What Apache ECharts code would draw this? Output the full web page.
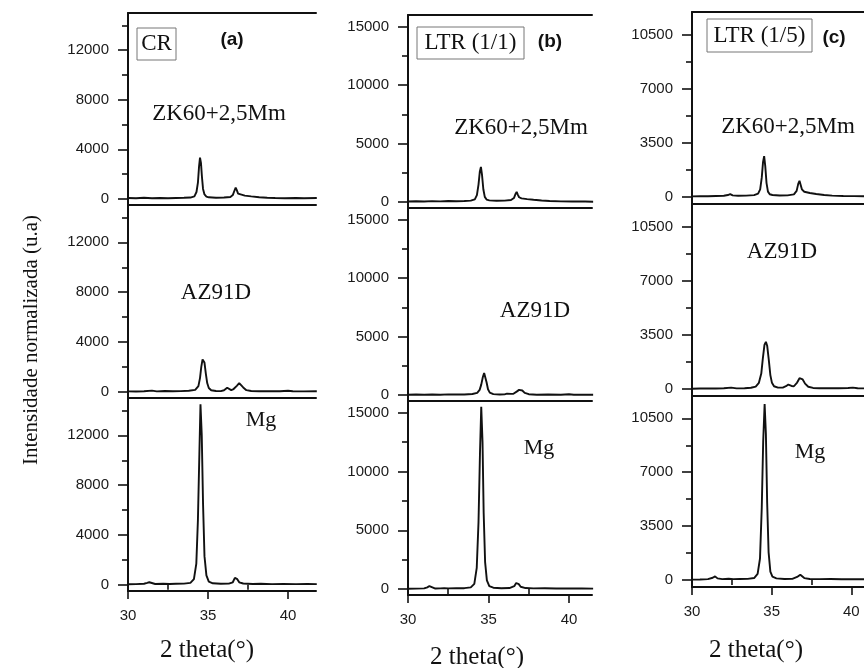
<!DOCTYPE html>
<html>
<head>
<meta charset="utf-8">
<script src="https://cdn.jsdelivr.net/npm/echarts@6/dist/echarts.min.js"></script>
<style>html,body{margin:0;padding:0;background:#fff}#c{width:864px;height:668px}</style>
</head>
<body>
<div id="c"></div>
<script>
// ---- Data (2 theta in degrees, intensity in a.u.) ----
const conditions = ['CR', 'LTR (1/1)', 'LTR (1/5)'];
const panelTags = ['(a)', '(b)', '(c)'];
const alloys = ['ZK60+2,5Mm', 'AZ91D', 'Mg'];

const zk60_CR = [[30,60],[30.5,40],[31.0,80],[31.5,50],[32.0,70],[32.5,40],[33.0,60],[33.5,80],[33.9,100],[34.15,200],[34.28,550],[34.37,1300],[34.44,2600],[34.5,3330],[34.56,2900],[34.62,1800],[34.69,800],[34.78,350],[34.9,180],[35.05,120],[35.5,90],[36.0,100],[36.4,150],[36.55,300],[36.65,650],[36.73,910],[36.8,700],[36.88,420],[37.0,320],[37.3,260],[37.7,200],[38.2,130],[38.7,80],[39.2,60],[39.8,40],[40.5,60],[41.0,40],[41.8,60]];
const az91_CR = [[30,30],[30.5,20],[31.0,40],[31.5,90],[31.8,30],[32.3,60],[32.8,40],[33.3,50],[33.8,80],[34.2,150],[34.4,450],[34.5,1100],[34.58,2000],[34.66,2600],[34.72,2640],[34.78,2350],[34.86,1500],[34.95,700],[35.05,300],[35.2,120],[35.5,60],[35.8,50],[36.0,120],[36.1,250],[36.2,320],[36.3,220],[36.45,130],[36.6,220],[36.8,480],[36.95,700],[37.05,650],[37.2,350],[37.4,130],[37.7,60],[38.2,40],[38.8,50],[39.5,40],[40.0,80],[40.1,120],[40.3,40],[41.0,30],[41.8,40]];
const mg_CR = [[30,40],[30.5,50],[31.0,80],[31.2,150],[31.33,200],[31.45,120],[31.7,60],[32.2,80],[32.6,60],[33.0,80],[33.5,90],[33.9,150],[34.12,450],[34.27,1700],[34.37,5200],[34.46,10500],[34.53,14500],[34.61,12000],[34.69,6500],[34.78,2300],[34.9,750],[35.05,250],[35.3,120],[35.8,80],[36.3,90],[36.55,200],[36.68,550],[36.75,670],[36.83,450],[36.95,200],[37.2,100],[37.8,60],[38.3,80],[39.0,50],[39.7,60],[40.5,50],[41.2,60],[41.8,50]];

const zk60_LTR11 = [[30,50],[30.5,80],[31.0,60],[31.5,90],[32.0,70],[32.5,100],[33.0,80],[33.5,100],[33.9,130],[34.15,240],[34.28,600],[34.38,1500],[34.46,2600],[34.53,3010],[34.6,2300],[34.68,1100],[34.77,450],[34.88,220],[35.05,150],[35.5,120],[36.0,130],[36.4,180],[36.58,350],[36.68,700],[36.75,880],[36.82,650],[36.9,420],[37.05,320],[37.4,260],[37.8,200],[38.3,140],[38.8,100],[39.5,70],[40.2,60],[41.0,50],[41.5,40]];
const az91_LTR11 = [[30,30],[30.5,50],[31.0,30],[31.5,60],[32.0,40],[32.5,70],[33.0,50],[33.5,60],[34.0,100],[34.3,200],[34.45,450],[34.55,900],[34.65,1550],[34.73,1900],[34.8,1750],[34.88,1100],[34.97,500],[35.08,220],[35.3,90],[35.7,50],[36.0,70],[36.15,130],[36.27,160],[36.4,110],[36.55,120],[36.75,300],[36.9,450],[37.0,490],[37.1,400],[37.25,200],[37.5,80],[38.0,40],[38.7,50],[39.5,40],[40.0,80],[40.1,100],[40.3,40],[41.0,30],[41.5,30]];
const mg_LTR11 = [[30,30],[30.5,40],[31.0,60],[31.2,150],[31.33,260],[31.45,130],[31.7,50],[32.0,60],[32.25,80],[32.36,110],[32.5,60],[33.0,70],[33.5,80],[33.9,150],[34.12,450],[34.27,1800],[34.38,5700],[34.47,11500],[34.55,15500],[34.63,12500],[34.7,6500],[34.79,2300],[34.9,750],[35.05,250],[35.3,120],[35.8,80],[36.3,90],[36.6,250],[36.72,520],[36.8,620],[36.88,420],[37.0,200],[37.3,90],[37.8,60],[38.5,70],[39.2,50],[40.0,60],[40.8,50],[41.5,40]];

const zk60_LTR15 = [[30,40],[30.5,60],[31.0,50],[31.5,70],[32.0,80],[32.25,130],[32.4,190],[32.55,110],[32.9,80],[33.4,90],[33.9,120],[34.15,220],[34.28,500],[34.38,1250],[34.46,2250],[34.53,2640],[34.6,2000],[34.68,900],[34.77,350],[34.88,180],[35.05,130],[35.5,100],[36.0,110],[36.4,170],[36.57,400],[36.67,850],[36.75,1050],[36.82,800],[36.9,500],[37.05,340],[37.4,260],[37.8,200],[38.3,130],[38.8,90],[39.5,70],[40.2,60],[40.8,50]];
const az91_LTR15 = [[30,20],[30.5,30],[31.0,40],[31.5,30],[32.0,50],[32.46,90],[32.8,40],[33.3,50],[33.7,80],[34.0,160],[34.2,400],[34.35,1000],[34.45,2000],[34.55,2850],[34.64,3050],[34.72,2800],[34.82,1900],[34.92,900],[35.02,400],[35.15,180],[35.4,90],[35.7,90],[35.9,180],[36.05,290],[36.12,300],[36.25,200],[36.4,180],[36.6,420],[36.75,700],[36.85,750],[36.95,620],[37.1,350],[37.3,150],[37.6,70],[38.0,50],[38.6,60],[39.2,50],[39.8,70],[40.1,90],[40.4,50],[40.8,40]];
const mg_LTR15 = [[30,30],[30.5,40],[31.0,60],[31.3,150],[31.45,240],[31.6,110],[31.9,60],[32.3,90],[32.6,60],[33.0,70],[33.5,80],[33.9,130],[34.12,400],[34.27,1400],[34.38,4700],[34.47,9000],[34.56,11430],[34.64,9500],[34.72,5000],[34.81,1800],[34.92,550],[35.05,220],[35.3,110],[35.8,70],[36.3,80],[36.6,200],[36.72,320],[36.8,350],[36.9,250],[37.05,130],[37.4,70],[38.0,60],[38.7,70],[39.4,50],[40.2,60],[40.8,50]];

// Axis tick values per column
const xLabelTicks = [30, 35, 40];
const xMinorTicks = [32.5, 37.5];
const yLabelTicksA = [0, 4000, 8000, 12000];
const yMinorTicksA = [2000, 6000, 10000, 14000];
const yLabelTicksB = [0, 5000, 10000, 15000];
const yMinorTicksB = [2500, 7500, 12500];
const yLabelTicksC = [0, 3500, 7000, 10500];
const yMinorTicksC = [1750, 5250, 8750];

const seriesByCol = [[zk60_CR, az91_CR, mg_CR],[zk60_LTR11, az91_LTR11, mg_LTR11],[zk60_LTR15, az91_LTR15, mg_LTR15]];
const yLabelByCol = [yLabelTicksA, yLabelTicksB, yLabelTicksC];
const yMinorByCol = [yMinorTicksA, yMinorTicksB, yMinorTicksC];

// ---- Layout ----
const cols = [
  {left:128, width:188, xmax:41.75, ymin:-500, ymax:15000, rows:[[13,192],[205,193],[398,193]]},
  {left:408, width:184, xmax:41.43, ymin:-500, ymax:16000, rows:[[15,193],[208,193],[401,194]]},
  {left:692, width:174, xmax:40.8,  ymin:-450, ymax:11950, rows:[[12,192],[204,192],[396,191]]}
];
const ink = '#111';
const labelFont = {fontFamily:'Liberation Sans', fontSize:15, color:'#1a1a1a', formatter: v => String(v)};

const grid = [], xAxis = [], yAxis = [], series = [];
const extraX = [], extraY = [];
cols.forEach((c, ci) => {
  c.rows.forEach((r, ri) => {
    const gi = ci*3 + ri;
    grid.push({left:c.left, top:r[0], width:c.width, height:r[1], containLabel:false});
    const isBottom = ri === 2;
    xAxis.push({
      type:'value', gridIndex:gi, min:30, max:c.xmax, position:'bottom',
      axisLine:{show:true, onZero:false, lineStyle:{color:ink, width:2}},
      axisTick:{show:isBottom, length:8, lineStyle:{color:ink, width:1.6}, customValues:xLabelTicks},
      axisLabel:Object.assign({show:isBottom, margin:17, customValues:xLabelTicks}, labelFont),
      splitLine:{show:false}
    });
    yAxis.push({
      type:'value', gridIndex:gi, min:c.ymin, max:c.ymax, position:'left',
      axisLine:{show:true, onZero:false, lineStyle:{color:ink, width:2}},
      axisTick:{show:true, length:10, lineStyle:{color:ink, width:1.6}, customValues:yLabelByCol[ci]},
      axisLabel:Object.assign({show:true, margin:19, customValues:yLabelByCol[ci]}, labelFont),
      splitLine:{show:false}
    });
    extraY.push({
      type:'value', gridIndex:gi, min:c.ymin, max:c.ymax, position:'left',
      axisLine:{show:false}, axisLabel:{show:false}, splitLine:{show:false},
      axisTick:{show:true, length:6, lineStyle:{color:ink, width:1.6}, customValues:yMinorByCol[ci]}
    });
    if (ri === 0) {
      extraX.push({
        type:'value', gridIndex:gi, min:30, max:c.xmax, position:'top',
        axisLine:{show:true, onZero:false, lineStyle:{color:ink, width:2}},
        axisTick:{show:false}, axisLabel:{show:false}, splitLine:{show:false}
      });
    }
    if (isBottom) {
      extraX.push({
        type:'value', gridIndex:gi, min:30, max:c.xmax, position:'bottom',
        axisLine:{show:false}, axisLabel:{show:false}, splitLine:{show:false},
        axisTick:{show:true, length:5, lineStyle:{color:ink, width:1.6}, customValues:xMinorTicks}
      });
    }
    series.push({
      type:'line', name: alloys[ri] + ' ' + conditions[ci], xAxisIndex:gi, yAxisIndex:gi,
      data: seriesByCol[ci][ri], showSymbol:false, symbol:'none', animation:false,
      lineStyle:{color:ink, width:1.9}, clip:true
    });
  });
});

// ---- Annotations ----
const serif = 'Liberation Serif';
function txt(text, x, y, size, opts) {
  return Object.assign({type:'text', x:x, y:y, silent:true, style:{text:text, fontFamily:serif, fontSize:size, fill:'#111', textAlign:'center', textVerticalAlign:'middle'}}, opts||{});
}
const graphic = [];
const boxes = [[137,28,39,32,156.5,44],[417,27,107,32,470.5,43],[707,19,105,33,759.5,35.5]];
boxes.forEach((b, i) => {
  graphic.push({type:'rect', shape:{x:b[0], y:b[1], width:b[2], height:b[3]}, style:{fill:'none', stroke:'#777', lineWidth:1}, silent:true});
  graphic.push(txt(conditions[i], b[4], b[5], 23));
});
const tagPos = [[232,40],[550,42],[834,38]];
tagPos.forEach((p, i) => {
  graphic.push({type:'text', x:p[0], y:p[1], silent:true, style:{text:panelTags[i], fontFamily:'Liberation Sans', fontWeight:'bold', fontSize:19, fill:'#111', textAlign:'center', textVerticalAlign:'middle'}});
});
const alloyPos = [
  [[219,114],[216,293],[261,420]],
  [[521,128],[535,311],[539,448]],
  [[788,127],[782,252],[810,452]]
];
alloyPos.forEach((col) => col.forEach((p, ri) => graphic.push(txt(alloys[ri], p[0], p[1], ri===2 ? 22 : 23))));
[[207,650],[477,657],[756,650]].forEach(p => graphic.push(txt('2 theta(°)', p[0], p[1], 25)));
graphic.push(txt('Intensidade normalizada (u.a)', 31, 340, 21, {rotation: Math.PI/2}));

const chart = echarts.init(document.getElementById('c'), null, {renderer:'canvas'});
chart.setOption({
  animation:false,
  backgroundColor:'#fff',
  grid: grid,
  xAxis: xAxis.concat(extraX),
  yAxis: yAxis.concat(extraY),
  series: series,
  graphic: graphic
});
</script>
</body>
</html>
